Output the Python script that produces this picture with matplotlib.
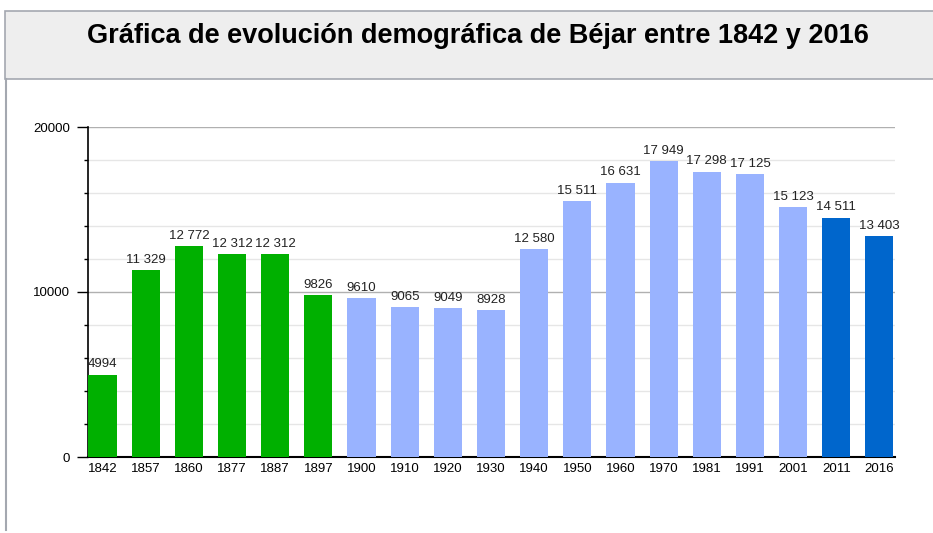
import matplotlib.pyplot as plt
from matplotlib.patches import Rectangle
from matplotlib.lines import Line2D

years = ["1842", "1857", "1860", "1877", "1887", "1897", "1900", "1910", "1920", "1930",
         "1940", "1950", "1960", "1970", "1981", "1991", "2001", "2011", "2016"]
population = [4994, 11329, 12772, 12312, 12312, 9826, 9610, 9065, 9049, 8928,
              12580, 15511, 16631, 17949, 17298, 17125, 15123, 14511, 13403]
labels = ["4994", "11 329", "12 772", "12 312", "12 312", "9826", "9610", "9065", "9049", "8928",
          "12 580", "15 511", "16 631", "17 949", "17 298", "17 125", "15 123", "14 511", "13 403"]
colors = ["#00b000"] * 6 + ["#99b3ff"] * 11 + ["#0066cc"] * 2
y_major = [0, 10000, 20000]
y_minor = [2000, 4000, 6000, 8000, 12000, 14000, 16000, 18000]

plt.rcParams['font.family'] = ['Liberation Sans', 'DejaVu Sans']

W, H = 933, 533
fig = plt.figure(figsize=(W / 100, H / 100), dpi=100)

# header band and frame
fig.patches.append(Rectangle((5 / W, 1 - 79 / H), 1, 68 / H, transform=fig.transFigure,
                             facecolor="#eeeeee", edgecolor="#a4a8b0", linewidth=1.2))
fig.lines.append(Line2D([6 / W, 6 / W], [1 - 79 / H, 1 - 530 / H], transform=fig.transFigure,
                        color="#a4a8b0", linewidth=1.5))
fig.text(478 / W, 1 - 43 / H, "Gráfica de evolución demográfica de Béjar entre 1842 y 2016",
         ha="center", va="baseline", fontsize=19.5, fontweight="bold")

ax = fig.add_axes([88 / W, 1 - 457 / H, (895 - 88) / W, (457 - 127) / H])
x = list(range(len(years)))
ax.bar(x, population, width=0.65, color=colors, zorder=3)
for xi, v, lab in zip(x, population, labels):
    ax.text(xi, v + 250, lab, ha="center", va="bottom", fontsize=9.5, color="#222222", zorder=4)

ax.set_xlim(-0.336, 18.36)
ax.set_ylim(0, 20000)
ax.set_xticks(x)
ax.set_xticklabels(years, fontsize=9.5)
ax.set_yticks(y_major)
ax.set_yticklabels([str(v) for v in y_major], fontsize=9.5)
ax.set_yticks(y_minor, minor=True)
ax.tick_params(axis="y", which="major", length=8, width=1, pad=5)
ax.tick_params(axis="y", which="minor", length=3, width=1)
ax.tick_params(axis="x", length=0, pad=4)
ax.grid(axis="y", which="major", color="#b0b0b0", linewidth=1, zorder=0)
ax.grid(axis="y", which="minor", color="#e6e6e6", linewidth=1, zorder=0)
for s in ["top", "right"]:
    ax.spines[s].set_visible(False)
ax.spines["left"].set_linewidth(1.2)
ax.spines["bottom"].set_linewidth(1.5)

fig.savefig("out.png", dpi=100)
